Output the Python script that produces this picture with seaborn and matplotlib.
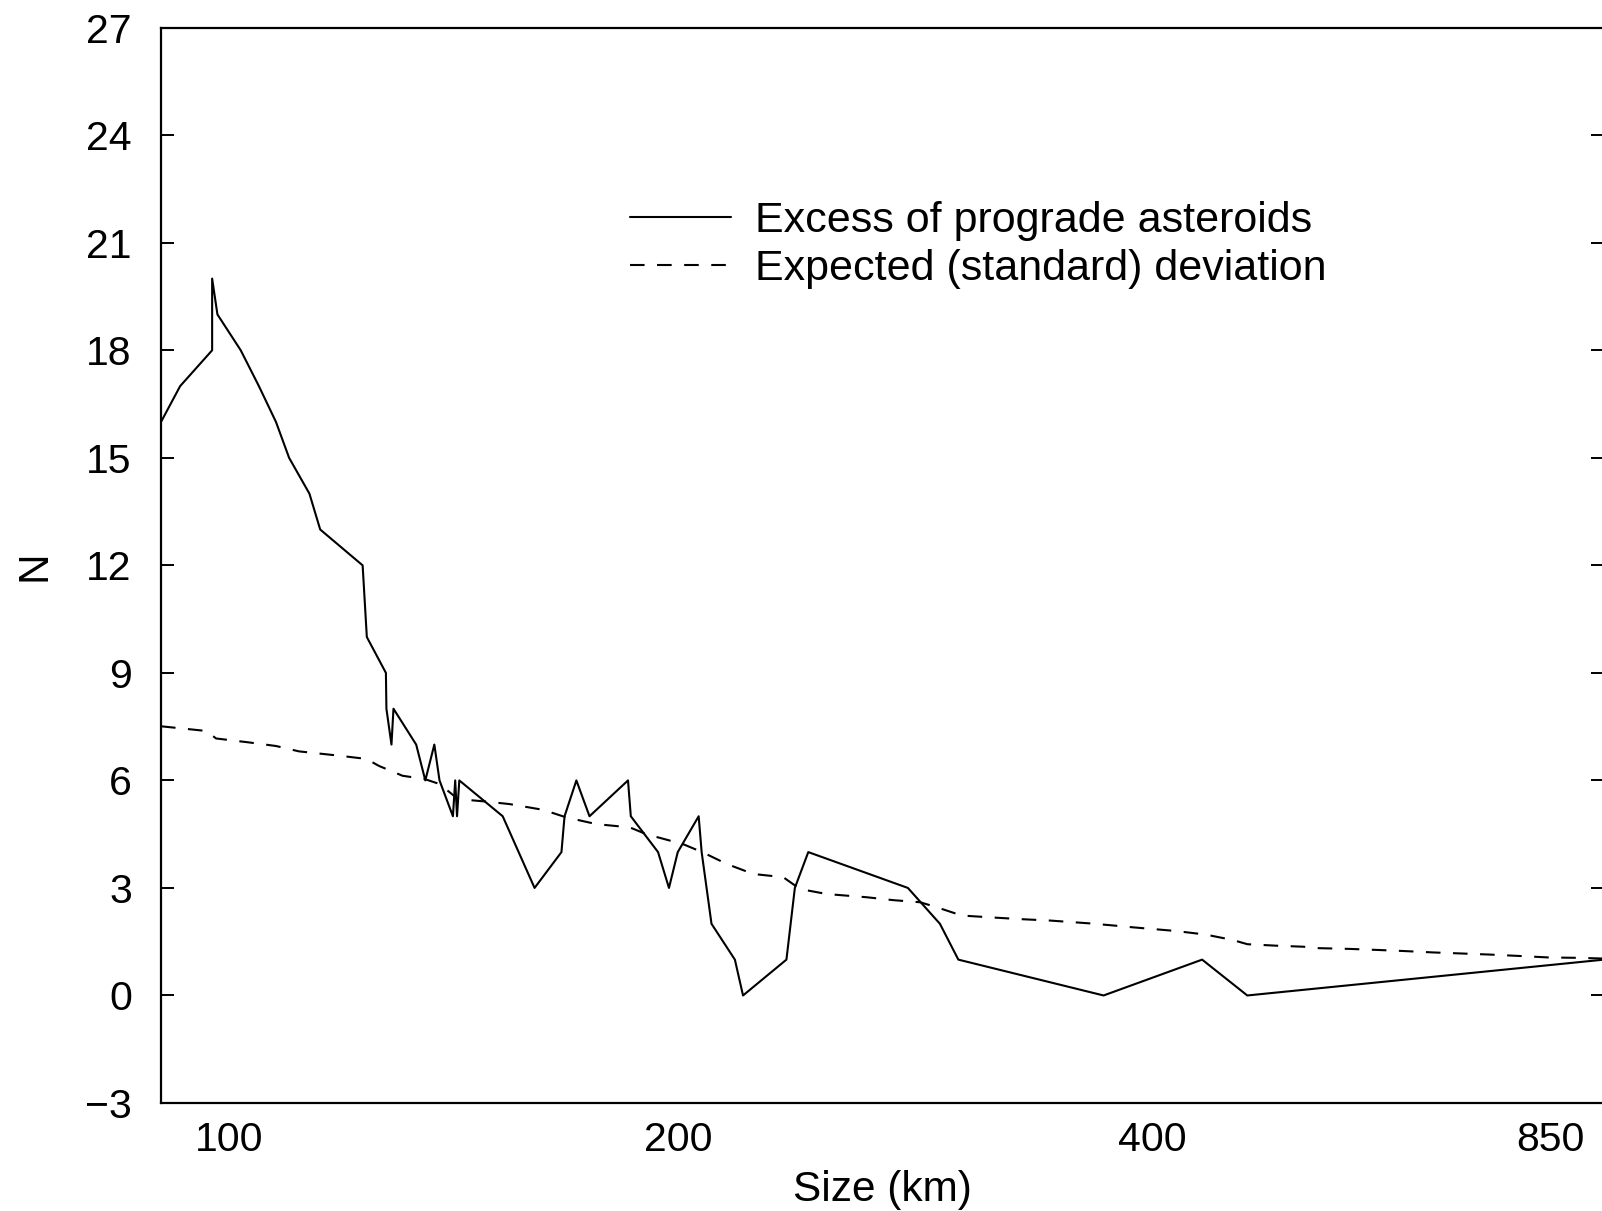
import numpy as np
import pandas as pd
import matplotlib
matplotlib.use("Agg")
import matplotlib.pyplot as plt
import seaborn as sns

# ---------------- data ----------------
size_excess = [90, 92.7, 97.4, 97.4, 97.8, 98.2, 101.8, 104.7, 107.5, 109.7,
               113.2, 115.1, 122.9, 123.7, 127.4, 127.5, 128.5, 128.9, 133.5, 135.4,
               137.3, 138.4, 141.3, 141.8, 142.2, 142.7, 152.6, 160.3, 167.1, 167.9,
               171.0, 174.5, 185.2, 186.0, 194.0, 197.3, 200.0, 206.2, 207.1, 210.1,
               217.4, 220.0, 234.4, 237.3, 242.0, 279.9, 293.3, 301.3, 372.5, 439.5,
               478.7, 940]
excess = [16, 17, 18, 20, 19.5, 19, 18, 17, 16, 15,
          14, 13, 12, 10, 9, 8, 7, 8, 7, 6,
          7, 6, 5, 6, 5, 6, 5, 3, 4, 5,
          6, 5, 6, 5, 4, 3, 4, 5, 4, 2,
          1, 0, 1, 3, 4, 3, 2, 1, 0, 1,
          0, 1]

size_dev = [90, 96.5, 98.0, 103.1, 107.5, 111.4, 118.5, 123.6, 126.1, 127.8,
            130.7, 135.2, 138.4, 142.4, 148.7, 154.2, 162.4, 168.3, 176.4, 185.7,
            190.5, 201.6, 207.5, 214.8, 223.3, 233.3, 239.1, 248.6, 263.6, 273.9,
            285.0, 292.0, 302.8, 315.6, 329.8, 344.6, 365.3, 380.6, 389.1, 417.8,
            442.2, 465.4, 478.8, 504.9, 532.4, 547.9, 579.9, 612.4, 643.5, 681.0,
            719.6, 758.7, 803.1, 846.8, 894.6, 940]
deviation = [7.51, 7.38, 7.17, 7.06, 6.96, 6.81, 6.69, 6.60, 6.40, 6.30,
             6.13, 6.04, 5.90, 5.48, 5.41, 5.34, 5.18, 4.97, 4.78, 4.69,
             4.50, 4.22, 3.99, 3.67, 3.39, 3.30, 2.97, 2.83, 2.74, 2.66,
             2.60, 2.46, 2.23, 2.18, 2.13, 2.09, 2.01, 1.94, 1.90, 1.80,
             1.70, 1.55, 1.43, 1.39, 1.36, 1.32, 1.30, 1.27, 1.24, 1.20,
             1.17, 1.14, 1.10, 1.06, 1.05, 1.03]

x_ticks = [100, 200, 400, 850]
x_tick_labels = ["100", "200", "400", "850"]
y_ticks = list(range(-3, 28, 3))
label_excess = "Excess of prograde asteroids"
label_dev = "Expected (standard) deviation"

# irregular size axis: fraction of axis width where each labelled size sits
tick_frac = [0.0478, 0.3583, 0.6868, 0.9626]

lt = np.log10(np.array(x_ticks, dtype=float))
tf = np.array(tick_frac)
s0 = (tf[1] - tf[0]) / (lt[1] - lt[0])
s1 = (tf[-1] - tf[-2]) / (lt[-1] - lt[-2])


def fwd(d):
    d = np.asarray(d, dtype=float)
    ld = np.log10(np.clip(d, 1e-6, None))
    y = np.interp(ld, lt, tf)
    y = np.where(ld < lt[0], tf[0] + (ld - lt[0]) * s0, y)
    y = np.where(ld > lt[-1], tf[-1] + (ld - lt[-1]) * s1, y)
    return y


def inv(y):
    y = np.asarray(y, dtype=float)
    ld = np.interp(y, tf, lt)
    ld = np.where(y < tf[0], lt[0] + (y - tf[0]) / s0, ld)
    ld = np.where(y > tf[-1], lt[-1] + (y - tf[-1]) / s1, ld)
    return 10 ** ld


df_ex = pd.DataFrame({"size": size_excess, "N": excess})
df_dev = pd.DataFrame({"size": size_dev, "N": deviation})

# ---------------- figure ----------------
sns.set_style("ticks")
plt.rcParams["font.family"] = ["Liberation Sans", "DejaVu Sans"]
plt.rcParams["text.color"] = "black"
plt.rcParams["axes.labelcolor"] = "black"
plt.rcParams["xtick.color"] = "black"
plt.rcParams["ytick.color"] = "black"

W, H = 1602, 1211
fig = plt.figure(figsize=(W / 100, H / 100), dpi=100)
fig.patch.set_facecolor("white")
ax = fig.add_axes([161 / W, 108 / H, 1443 / W, 1075.3 / H])
ax.set_facecolor("white")

ax.set_xscale("function", functions=(fwd, inv))

sns.lineplot(data=df_ex, x="size", y="N", ax=ax, color="black", lw=1.5,
             sort=False, estimator=None, label=label_excess)
sns.lineplot(data=df_dev, x="size", y="N", ax=ax, color="black", lw=1.5,
             sort=False, estimator=None, label=label_dev)
ax.lines[-1].set_dashes((7, 6))

ax.set_xlim(90, 940)
ax.set_ylim(-3, 27)
ax.set_xticks(x_ticks)
ax.set_xticklabels(x_tick_labels)
ax.xaxis.set_minor_locator(matplotlib.ticker.NullLocator())
ax.set_yticks(y_ticks)

for sp in ax.spines.values():
    sp.set_visible(True)
    sp.set_color("black")
    sp.set_linewidth(1.6)

ax.tick_params(axis="y", direction="in", length=9.5, width=1.4,
               left=True, right=True, labelsize=29.5, pad=21, colors="black")
ax.tick_params(axis="x", length=0, labelsize=29.5, pad=13, colors="black")

ax.set_xlabel("Size (km)", fontsize=30.5, labelpad=8)
ax.set_ylabel("N", fontsize=30.5, labelpad=22)

leg = ax.legend(loc="upper left", bbox_to_anchor=(0.325, 0.839), frameon=False,
                fontsize=31, handlelength=2.35, handletextpad=0.55,
                labelspacing=0.2, borderpad=0, borderaxespad=0)
for line in leg.get_lines():
    line.set_linewidth(1.5)
for t in leg.get_texts():
    t.set_color("black")

fig.savefig("out.png", dpi=100, facecolor="white")
